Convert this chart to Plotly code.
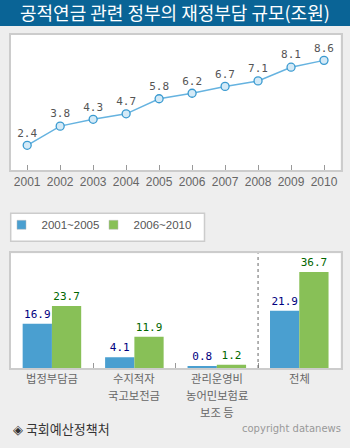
import plotly.graph_objects as go

years = ["2001", "2002", "2003", "2004", "2005", "2006", "2007", "2008", "2009", "2010"]
burden = [2.4, 3.8, 4.3, 4.7, 5.8, 6.2, 6.7, 7.1, 8.1, 8.6]

categories = ["법정부담금", "수지적자 국고보전금", "관리운영비 농어민보험료 보조 등", "전체"]
category_lines = [["법정부담금"], ["수지적자", "국고보전금"], ["관리운영비", "농어민보험료", "보조 등"], ["전체"]]
period1_name = "2001~2005"
period2_name = "2006~2010"
period1 = [16.9, 4.1, 0.8, 21.9]
period2 = [23.7, 11.9, 1.2, 36.7]

W, H = 350, 448
BLUE = "#4a9fd0"
GREEN = "#88c057"
KR = "Noto Sans CJK KR"
MONO = "DejaVu Sans Mono"
NARROW = "Liberation Sans Narrow, Liberation Sans"

def px_x(v):
    return v / W

def px_y(v):
    return 1 - v / H

fig = go.Figure()

# line chart
fig.add_trace(go.Scatter(
    x=years, y=burden, mode="lines+markers+text",
    text=[f"{v:.1f}" for v in burden], textposition="top center",
    textfont=dict(family=MONO, size=11, color="#555555"),
    line=dict(color="#66b3e0", width=1.5),
    marker=dict(size=8, color="#d4eaf7", line=dict(color="#3a9ad0", width=1.3)),
    xaxis="x", yaxis="y", showlegend=False, cliponaxis=False,
))

# bars
fig.add_trace(go.Bar(
    x=categories, y=period1, name=period1_name, marker=dict(color=BLUE, line=dict(width=0)),
    text=[f"{v:.1f}" for v in period1], textposition="outside", constraintext="none",
    textfont=dict(family=MONO, size=11, color="#000080"),
    xaxis="x2", yaxis="y2", showlegend=False, cliponaxis=False,
))
fig.add_trace(go.Bar(
    x=categories, y=period2, name=period2_name, marker=dict(color=GREEN, line=dict(width=0)),
    text=[f"{v:.1f}" for v in period2], textposition="outside", constraintext="none",
    textfont=dict(family=MONO, size=11, color="#006600"),
    xaxis="x2", yaxis="y2", showlegend=False, cliponaxis=False,
))

# legend entries
for nm, col, lw in [(period1_name, BLUE, 47), (period2_name, GREEN, 70)]:
    fig.add_trace(go.Scatter(
        x=[None], y=[None], mode="markers", name=nm, legendwidth=lw,
        marker=dict(symbol="square", size=9, color=col, line=dict(color="#bbbbbb", width=0.5)),
        xaxis="x2", yaxis="y2", showlegend=True,
    ))

xdom = [px_x(10.7), px_x(340.5)]
axis_common = dict(showline=True, mirror=True, linecolor="#cccccc", linewidth=1.5,
                   showgrid=False, zeroline=False, automargin=False)

annotations = [
    dict(text="공적연금 관련 정부의 재정부담 규모(조원)", xref="paper", yref="paper",
         x=0.5, y=px_y(12.5), xanchor="center", yanchor="middle", showarrow=False,
         font=dict(family=KR, size=18, color="#ffffff")),
    dict(text="◈ 국회예산정책처", xref="paper", yref="paper",
         x=px_x(11), y=px_y(428), xanchor="left", yanchor="middle", showarrow=False,
         font=dict(family=KR, size=13, color="#333333")),
    dict(text="copyright datanews", xref="paper", yref="paper",
         x=px_x(343), y=px_y(428), xanchor="right", yanchor="middle", showarrow=False,
         font=dict(family="DejaVu Sans", size=10, color="#999999")),
]
for cat, lines in zip(categories, category_lines):
    for i, ln in enumerate(lines):
        annotations.append(dict(
            text=ln, xref="x2", yref="paper", x=cat, y=px_y(378 + 16.8 * i),
            xanchor="center", yanchor="middle", showarrow=False,
            font=dict(family=KR, size=11.3, color="#666666")))

fig.update_layout(
    width=W, height=H, margin=dict(l=0, r=0, t=0, b=0),
    paper_bgcolor="#eeeeee", plot_bgcolor="#ffffff",
    xaxis=dict(domain=xdom, anchor="y", type="category", range=[-0.5, 9.5],
               ticks="inside", ticklen=5, tickcolor="#999999", tickangle=0,
               tickfont=dict(family=NARROW, size=12, color="#666666"), **axis_common),
    yaxis=dict(domain=[px_y(170), px_y(35)], anchor="x", range=[0.6, 10.45],
               showticklabels=False, ticks="", **axis_common),
    xaxis2=dict(domain=xdom, anchor="y2", type="category", range=[-0.5, 3.5],
                ticks="inside", ticklen=5, tickcolor="#999999", tickson="boundaries",
                showticklabels=False, **axis_common),
    yaxis2=dict(domain=[px_y(368), px_y(253.3)], anchor="x2", range=[0, 43.8],
                showticklabels=False, ticks="", **axis_common),
    barmode="group", bargap=0.29, bargroupgap=0,
    legend=dict(orientation="h", x=px_x(1.5), y=px_y(224.8), xanchor="left", yanchor="middle",
                bgcolor="rgba(0,0,0,0)", borderwidth=0,
                font=dict(family=NARROW, size=11.5, color="#555555"),
                itemwidth=30),
    shapes=[
        dict(type="rect", xref="paper", yref="paper", x0=0, x1=1, y0=px_y(26), y1=1,
             fillcolor="#0a6496", line=dict(width=0), layer="below"),
        dict(type="rect", xref="paper", yref="paper", x0=px_x(10.7), x1=px_x(204.5),
             y0=px_y(241.3), y1=px_y(213.3), fillcolor="#ffffff",
             line=dict(color="#cccccc", width=1.5), layer="below"),
        dict(type="line", xref="x2", yref="paper", x0=2.5, x1=2.5,
             y0=px_y(368), y1=px_y(253.3), line=dict(color="#666666", width=1, dash="dot")),
    ],
    annotations=annotations,
)

fig.write_html("out.html")
